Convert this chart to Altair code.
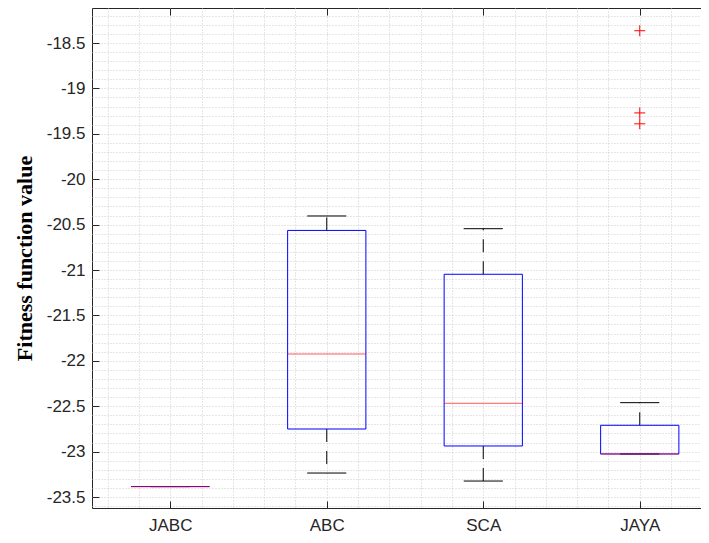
import json
import altair as alt
import pandas as pd

# ---- data ----
categories = ["JABC", "ABC", "SCA", "JAYA"]
positions = [1, 2, 3, 4]
lower_whisker = [-23.385, -23.236, -23.324, -23.026]
q1_values = [-23.385, -22.751, -22.938, -23.026]
median_values = [-23.385, -21.925, -22.468, -23.026]
q3_values = [-23.385, -20.564, -21.047, -22.710]
upper_whisker = [-23.385, -20.405, -20.545, -22.461]
outlier_category = ["JAYA", "JAYA", "JAYA"]
outlier_position = [4, 4, 4]
outlier_values = [-18.365, -19.27, -19.39]

y_tick_values = [-23.5, -23.0, -22.5, -22.0, -21.5, -21.0, -20.5, -20.0, -19.5, -19.0, -18.5]

box_df = pd.DataFrame({
    "cat": categories, "pos": positions, "lw": lower_whisker, "q1": q1_values,
    "med": median_values, "q3": q3_values, "uw": upper_whisker,
})
out_df = pd.DataFrame({"cat": outlier_category, "pos": outlier_position, "val": outlier_values})

# ---- scales / axis helpers ----
X_DOMAIN = [0.5, 4.5]
Y_DOMAIN = [-23.621, -18.1145]
xs = alt.Scale(domain=X_DOMAIN, nice=False, zero=False, padding=0)
ys = alt.Scale(domain=Y_DOMAIN, nice=False, zero=False, padding=0)

x_grid_vals = [round(0.6 + 0.2 * i, 1) for i in range(20)]
y_grid_vals = [round(-23.6 + 0.1 * i, 1) for i in range(55)]

GRID = dict(grid=True, labels=False, ticks=False, domain=False, title=None,
            gridColor="#cdcdcd", gridDash=[1, 2], gridWidth=1, zindex=0)
NOAX = None

label_font = "Liberation Sans"
label_color = "#262626"

base = alt.Chart(box_df).transform_calculate(
    x1="datum.pos - 0.25", x2="datum.pos + 0.25",
    c1="datum.pos - 0.125", c2="datum.pos + 0.125",
)

grid_layer = base.mark_point(opacity=0).encode(
    x=alt.X("pos:Q", scale=xs, axis=alt.Axis(orient="bottom", values=x_grid_vals, **GRID)),
    y=alt.Y("med:Q", scale=ys, axis=alt.Axis(orient="left", values=y_grid_vals, **GRID)),
)

dash = [13, 9]
whisk_up = base.mark_rule(color="black", strokeWidth=1, strokeDash=dash).encode(
    x=alt.X("pos:Q", scale=xs, axis=NOAX),
    y=alt.Y("q3:Q", scale=ys, axis=NOAX), y2="uw:Q",
)
whisk_dn = base.mark_rule(color="black", strokeWidth=1, strokeDash=dash).encode(
    x=alt.X("pos:Q", scale=xs, axis=NOAX),
    y=alt.Y("q1:Q", scale=ys, axis=NOAX), y2="lw:Q",
)
cap_up = base.mark_rule(color="black", strokeWidth=1).encode(
    x=alt.X("c1:Q", scale=xs, axis=alt.Axis(
        orient="top", values=positions, labels=False, grid=False, domain=False,
        tickSize=7, offset=-7, tickColor="#262626", title=None, zindex=1)),
    x2="c2:Q",
    y=alt.Y("uw:Q", scale=ys, axis=NOAX),
)
cap_dn = base.mark_rule(color="black", strokeWidth=1).encode(
    x=alt.X("c1:Q", scale=xs, axis=NOAX), x2="c2:Q",
    y=alt.Y("lw:Q", scale=ys, axis=NOAX),
)
box = base.mark_rect(fillOpacity=0, stroke="#0000ff", strokeWidth=1).encode(
    x=alt.X("x1:Q", scale=xs, axis=NOAX), x2="x2:Q",
    y=alt.Y("q1:Q", scale=ys, axis=NOAX), y2="q3:Q",
)
label_expr_x = f"{json.dumps(categories)}[round(datum.value) - 1]"
median = base.mark_rule(color="#ff0000", strokeWidth=1, opacity=0.65).encode(
    x=alt.X("x1:Q", scale=xs, axis=alt.Axis(
        orient="bottom", values=positions, labelExpr=label_expr_x, grid=False,
        domain=False, tickSize=7, offset=-7, tickColor="#262626", labelPadding=9,
        labelFont=label_font, labelFontSize=17, labelColor=label_color,
        title=None, zindex=1)),
    x2="x2:Q",
    y=alt.Y("med:Q", scale=ys, axis=alt.Axis(
        orient="left", values=y_tick_values,
        labelExpr="(datum.value < 0 ? '-' : '') + format(abs(datum.value), '~g')",
        grid=False, domain=False, tickSize=7, offset=-7, tickColor="#262626",
        labelPadding=7, labelFont=label_font, labelFontSize=17, labelColor=label_color,
        title="Fitness function value", titleFont="Liberation Serif", titleFontSize=22,
        titleFontWeight="bold", titleColor="black", titlePadding=10, zindex=1)),
)
outliers = alt.Chart(out_df).mark_point(
    shape="M-1,0L1,0M0,-1L0,1", filled=False, color="#ff0000", size=121, strokeWidth=1, opacity=1,
).encode(
    x=alt.X("pos:Q", scale=xs, axis=NOAX),
    y=alt.Y("val:Q", scale=ys, axis=NOAX),
)

chart = alt.layer(
    grid_layer, whisk_up, whisk_dn, cap_up, cap_dn, box, median, outliers
).resolve_axis(x="independent", y="independent").properties(
    width=626, height=500,
    autosize=alt.AutoSizeParams(type="none"),
    padding={"left": 84, "top": 0, "right": -17, "bottom": 27},
).configure_view(stroke="#262626", strokeWidth=1)

chart.save("out.html", embed_options={"renderer": "svg", "actions": False})
